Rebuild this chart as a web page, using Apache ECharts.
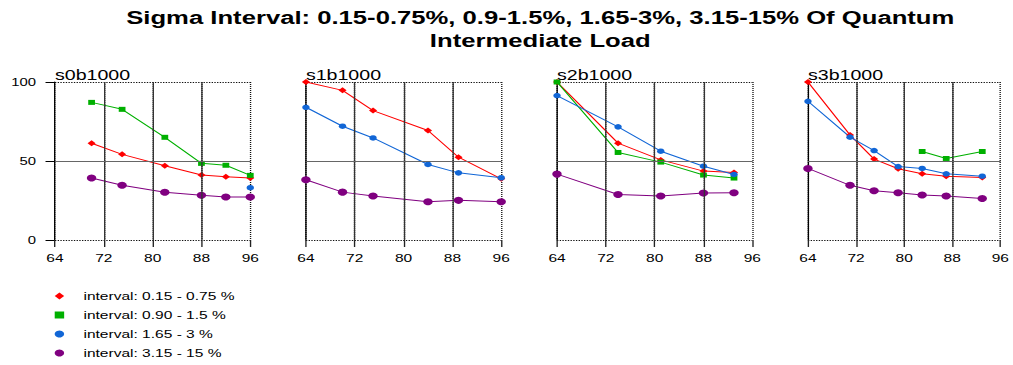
<!DOCTYPE html>
<html>
<head>
<meta charset="utf-8">
<script src="https://cdn.jsdelivr.net/npm/echarts@6/dist/echarts.min.js"></script>
<style>
  html, body { margin: 0; padding: 0; background: #fff; overflow: hidden; }
  #wrap { width: 1013px; height: 365px; overflow: hidden; }
  /* the chart is laid out at 750px and widened to the page width */
  #chart { width: 750px; height: 365px; transform: scaleX(1.35067); transform-origin: 0 0; }
</style>
</head>
<body>
<div id="wrap"><div id="chart"></div></div>
<script>
const panelNames = ['s0b1000', 's1b1000', 's2b1000', 's3b1000'];
const intervalNames = [
  'interval: 0.15 - 0.75 %',
  'interval: 0.90 - 1.5 %',
  'interval: 1.65 - 3 %',
  'interval: 3.15 - 15 %'
];
const xTicks = [64, 72, 80, 88, 96];
const yTicks = [0, 50, 100];

// s0b1000
const s0Load = [70, 75, 82, 88, 92, 96];
const s0Int1 = [61.2, 54.2, 47.0, 41.1, 40.1, 39.2];
const s0Int2 = [87.1, 82.7, 65.0, 48.5, 47.3, 40.9];
const s0Int3 = [null, null, null, null, null, 33.1];
const s0Int4 = [39.2, 34.6, 30.2, 28.3, 27.2, 27.2];

// s1b1000
const s1Load = [64, 70, 75, 84, 89, 96];
const s1Int1 = [100, 94.7, 81.9, 69.3, 52.4, 38.7];
const s1Int2 = [null, null, null, null, null, null];
const s1Int3 = [84.0, 72.0, 64.6, 47.8, 42.5, 39.4];
const s1Int4 = [38.1, 30.3, 27.8, 24.2, 25.1, 24.2];

// s2b1000
const s2Load = [64, 74, 81, 88, 93];
const s2Int1 = [100, 61.3, 50.7, 43.6, 42.7];
const s2Int2 = [100, 55.4, 49.3, 41.1, 39.2];
const s2Int3 = [91.4, 71.6, 56.2, 46.7, 41.5];
const s2Int4 = [41.7, 28.8, 27.8, 29.7, 29.9];

// s3b1000
const s3Load = [64, 71, 75, 79, 83, 87, 93];
const s3Int1 = [100, 66.5, 51.2, 45.1, 41.9, 40.4, 39.6];
const s3Int2 = [null, null, null, null, 56.0, 51.6, 56.0];
const s3Int3 = [87.8, 65.1, 56.6, 46.5, 45.3, 41.9, 40.4];
const s3Int4 = [45.3, 34.6, 31.2, 29.9, 28.5, 27.8, 26.3];

const panelData = [
  { load: s0Load, values: [s0Int1, s0Int2, s0Int3, s0Int4] },
  { load: s1Load, values: [s1Int1, s1Int2, s1Int3, s1Int4] },
  { load: s2Load, values: [s2Int1, s2Int2, s2Int3, s2Int4] },
  { load: s3Load, values: [s3Int1, s3Int2, s3Int3, s3Int4] }
];

const FONT = '"Liberation Sans", Arial, sans-serif';
const colors = ['#ff0000', '#00b000', '#1166d6', '#800080'];
const symbols = ['diamond', 'rect', 'circle', 'circle'];
const symbolSizes = [6, 5, 5.5, 7];

const gridLefts = [40.7, 226.5, 412.4, 598.2];
const gridWidth = 144.6;
const gridTop = 82;
const gridHeight = 158;

const grids = [], xAxes = [], yAxes = [], series = [];
const titles = [{
  text: 'Sigma Interval: 0.15-0.75%, 0.9-1.5%, 1.65-3%, 3.15-15% Of Quantum\nIntermediate Load',
  left: 400, top: 6, textAlign: 'center', padding: 0,
  textStyle: { fontFamily: FONT, fontSize: 19, fontWeight: 'bold', lineHeight: 23, color: '#000' }
}];

panelNames.forEach((name, p) => {
  grids.push({ left: gridLefts[p], top: gridTop, width: gridWidth, height: gridHeight });
  titles.push({
    text: name, left: gridLefts[p], top: 67, padding: 0,
    textStyle: { fontFamily: FONT, fontSize: 14.5, fontWeight: 'normal', color: '#000' }
  });
  xAxes.push({
    type: 'value', gridIndex: p,
    min: xTicks[0], max: xTicks[xTicks.length - 1], interval: xTicks[1] - xTicks[0],
    axisLine: { show: false },
    axisTick: { show: true, length: 7, lineStyle: { color: '#222' } },
    axisLabel: { fontFamily: FONT, fontSize: 11.5, color: '#000', margin: 12 },
    splitLine: { show: true, lineStyle: { type: 'dotted', color: '#111', width: 1 } }
  });
  yAxes.push({
    type: 'value', gridIndex: p,
    min: yTicks[0], max: yTicks[yTicks.length - 1], interval: yTicks[1] - yTicks[0],
    axisLine: { show: true, lineStyle: { color: '#000', width: 1 } },
    axisTick: { show: p === 0, length: 7, lineStyle: { color: '#000' } },
    axisLabel: { show: p === 0, fontFamily: FONT, fontSize: 11, color: '#000', margin: 14 },
    splitLine: { show: true, lineStyle: { type: 'dotted', color: '#111', width: 1 } }
  });

  const d = panelData[p];
  d.values.forEach((vals, k) => {
    const s = {
      type: 'line', name: intervalNames[k],
      xAxisIndex: p, yAxisIndex: p,
      data: d.load.map((x, i) => [x, vals[i]]),
      symbol: symbols[k], symbolSize: symbolSizes[k],
      showAllSymbol: true,
      itemStyle: { color: colors[k] },
      lineStyle: { color: colors[k], width: 1 },
      clip: false,
      animation: false
    };
    if (k === 0) {
      s.markLine = {
        silent: true, symbol: 'none', animation: false,
        label: { show: false },
        data: [
          { xAxis: 72, lineStyle: { type: 'solid', color: '#333', width: 1 } },
          { xAxis: 80, lineStyle: { type: 'solid', color: '#333', width: 1 } },
          { xAxis: 88, lineStyle: { type: 'solid', color: '#333', width: 1 } },
          { yAxis: 50, lineStyle: { type: 'solid', color: '#666', width: 1 } }
        ]
      };
    }
    series.push(s);
  });
});

const chart = echarts.init(document.getElementById('chart'), null, { renderer: 'svg' });
chart.setOption({
  animation: false,
  backgroundColor: '#fff',
  title: titles,
  grid: grids,
  xAxis: xAxes,
  yAxis: yAxes,
  legend: {
    orient: 'vertical', left: 40.5, top: 289, height: 76, padding: 0,
    itemWidth: 7, itemHeight: 7, itemGap: 5,
    selectedMode: false,
    textStyle: { fontFamily: FONT, fontSize: 11.5, lineHeight: 14, color: '#000', padding: [0, 0, 0, 9.3] },
    data: intervalNames.map((n, k) => ({ name: n, icon: symbols[k] }))
  },
  series: series
});
</script>
</body>
</html>
